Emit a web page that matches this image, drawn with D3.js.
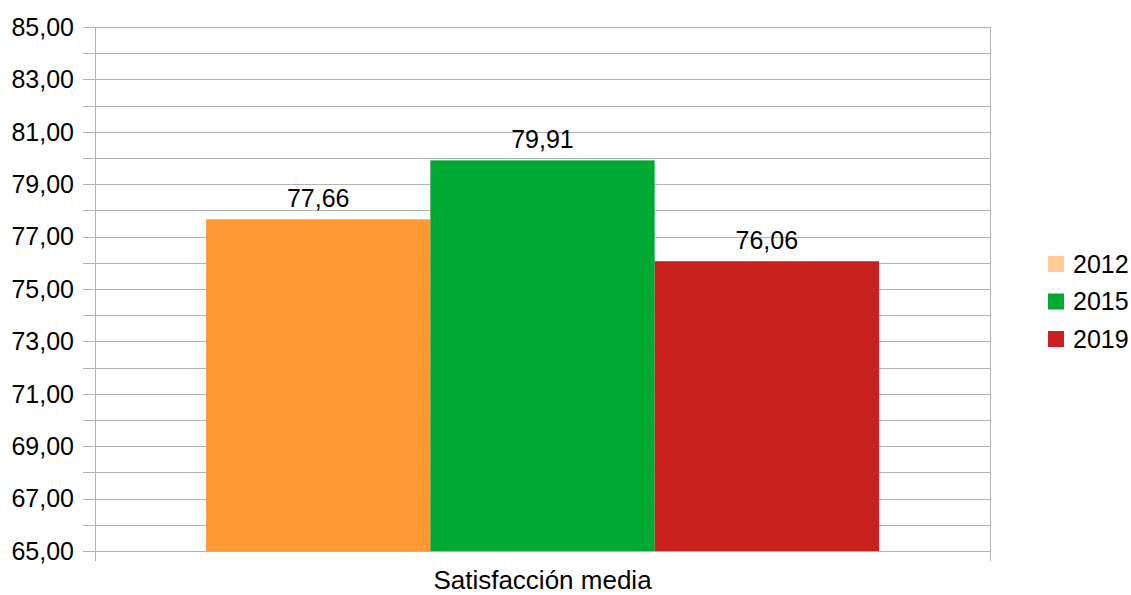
<!DOCTYPE html>
<html>
<head>
<meta charset="utf-8">
<script src="https://cdn.jsdelivr.net/npm/d3@7"></script>
<style>
  body { margin: 0; background: #fff; }
  text { font-family: "Liberation Sans", Arial, sans-serif; fill: #000; }
</style>
</head>
<body>
<svg id="chart"></svg>
<script>
// chart data
const category = "Satisfacción media";
const years = ["2012", "2015", "2019"];
const values = [77.66, 79.91, 76.06];
const barColors = ["#ff9933", "#00a933", "#c9211e"];
const legendColors = ["#ffcc99", "#00a933", "#c9211e"];
const yTicks = [65, 67, 69, 71, 73, 75, 77, 79, 81, 83, 85];

const width = 1131, height = 595;
const margin = {top: 27, right: 141, bottom: 44, left: 95};
const plotW = width - margin.left - margin.right;
const plotH = height - margin.top - margin.bottom;

const fmt = v => d3.format(".2f")(v).replace(".", ",");

const svg = d3.select("#chart")
    .attr("width", width)
    .attr("height", height);

const chart = svg.append("g")
    .attr("transform", `translate(${margin.left},${margin.top})`);

const yScale = d3.scaleLinear()
    .domain([65, 85])
    .range([plotH, 0]);

// bars take the middle 3/4 of the category band
const xScale = d3.scaleBand()
    .domain([category])
    .range([0, plotW])
    .paddingInner(0)
    .paddingOuter(0.165);

const xSub = d3.scaleBand()
    .domain(years)
    .range([0, xScale.bandwidth()]);

// gridlines every unit
const gridVals = d3.range(65, 86, 1);
chart.append("g")
    .selectAll("line")
    .data(gridVals)
    .join("line")
      .attr("x1", -12)
      .attr("x2", plotW)
      .attr("y1", d => Math.round(yScale(d)) + 0.5)
      .attr("y2", d => Math.round(yScale(d)) + 0.5)
      .attr("stroke", "#b3b3b3")
      .attr("stroke-width", 1);

// left and right frame lines
chart.append("g")
    .selectAll("line")
    .data([0, plotW])
    .join("line")
      .attr("x1", d => Math.round(d) + 0.5)
      .attr("x2", d => Math.round(d) + 0.5)
      .attr("y1", 0)
      .attr("y2", plotH + 10)
      .attr("stroke", "#b3b3b3")
      .attr("stroke-width", 1);

// y tick labels
chart.append("g")
    .selectAll("text")
    .data(yTicks)
    .join("text")
      .attr("x", -21)
      .attr("y", d => yScale(d))
      .attr("dy", "0.35em")
      .attr("text-anchor", "end")
      .attr("font-size", "25px")
      .text(fmt);

// bars
const grp = chart.append("g")
    .attr("transform", `translate(${xScale(category)},0)`);

grp.selectAll("rect")
    .data(values)
    .join("rect")
      .attr("x", (d, i) => xSub(years[i]))
      .attr("y", d => yScale(d))
      .attr("width", xSub.bandwidth())
      .attr("height", d => plotH - yScale(d))
      .attr("fill", (d, i) => barColors[i]);

grp.selectAll("text")
    .data(values)
    .join("text")
      .attr("x", (d, i) => xSub(years[i]) + xSub.bandwidth() / 2)
      .attr("y", d => yScale(d) - 12)
      .attr("text-anchor", "middle")
      .attr("font-size", "25px")
      .text(fmt);

// category label
chart.append("text")
    .attr("x", xScale(category) + xScale.bandwidth() / 2)
    .attr("y", plotH + 38)
    .attr("text-anchor", "middle")
    .attr("font-size", "26px")
    .text(category);

// legend
const legend = svg.append("g")
    .attr("transform", "translate(1048,264)");

const item = legend.selectAll("g")
    .data(years)
    .join("g")
      .attr("transform", (d, i) => `translate(0,${i * 37.5})`);

item.append("rect")
    .attr("x", 0)
    .attr("y", -8)
    .attr("width", 16)
    .attr("height", 16)
    .attr("fill", (d, i) => legendColors[i]);

item.append("text")
    .attr("x", 25)
    .attr("y", 0)
    .attr("dy", "0.35em")
    .attr("font-size", "25px")
    .text(d => d);
</script>
</body>
</html>
